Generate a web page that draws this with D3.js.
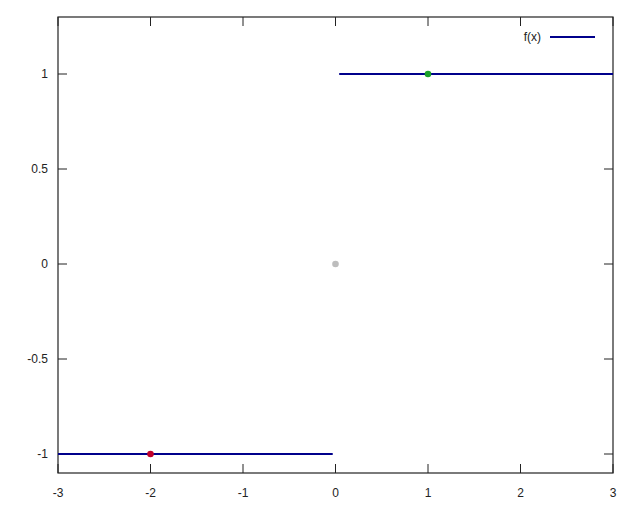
<!DOCTYPE html>
<html><head><meta charset="utf-8">
<script src="https://cdn.jsdelivr.net/npm/d3@7"></script>
<style>body{margin:0;background:#fff}svg{display:block}text{font-family:"Liberation Sans",Arial,sans-serif;font-size:12px;fill:#222}</style>
</head><body><svg id="c" width="640" height="512"></svg>
<script>
const xTicks = [-3,-2,-1,0,1,2,3];
const yTicks = [-1,-0.5,0,0.5,1];
const yTickLabels = ["-1","-0.5","0","0.5","1"];
const segments = [
  {x: [-3, -0.03], y: -1},
  {x: [0.04, 3], y: 1}
];
const points = [
  {x: -2, y: -1, color: "#c0002a"},
  {x: 1, y: 1, color: "#1aa02a"},
  {x: 0, y: 0, color: "#bdbdbd"}
];
const legendLabel = "f(x)";

const svg = d3.select("#c");
const L = 58, R = 613, T = 17, B = 473;
const x = d3.scaleLinear().domain([-3, 3]).range([L, R]);
const y = d3.scaleLinear().domain([-1.1, 1.3]).range([B, T]);
const tk = 9;
const axisCol = "#222";

const g = svg.append("g");
xTicks.forEach(v => {
  g.append("line").attr("x1", x(v)).attr("x2", x(v)).attr("y1", B).attr("y2", B - tk).attr("stroke", axisCol);
  g.append("line").attr("x1", x(v)).attr("x2", x(v)).attr("y1", T).attr("y2", T + tk).attr("stroke", axisCol);
  g.append("text").attr("x", x(v)).attr("y", B + 24).attr("text-anchor", "middle").text(v);
});
yTicks.forEach((v, i) => {
  g.append("line").attr("x1", L).attr("x2", L + tk).attr("y1", y(v)).attr("y2", y(v)).attr("stroke", axisCol);
  g.append("line").attr("x1", R).attr("x2", R - tk).attr("y1", y(v)).attr("y2", y(v)).attr("stroke", axisCol);
  g.append("text").attr("x", L - 10).attr("y", y(v) + 4).attr("text-anchor", "end").text(yTickLabels[i]);
});
g.append("rect").attr("x", L).attr("y", T).attr("width", R - L).attr("height", B - T)
  .attr("fill", "none").attr("stroke", axisCol).attr("stroke-width", 1.2);

const line = d3.line().x(d => x(d[0])).y(d => y(d[1]));
segments.forEach(s => {
  svg.append("path").attr("d", line([[s.x[0], s.y], [s.x[1], s.y]]))
    .attr("stroke", "#00008b").attr("stroke-width", 2).attr("fill", "none");
});
points.forEach(p => {
  svg.append("circle").attr("cx", x(p.x)).attr("cy", y(p.y)).attr("r", 3.3).attr("fill", p.color);
});
svg.append("text").attr("x", 541).attr("y", 41).attr("text-anchor", "end").text(legendLabel);
svg.append("line").attr("x1", 550).attr("x2", 595).attr("y1", 37).attr("y2", 37)
  .attr("stroke", "#00008b").attr("stroke-width", 2);
</script></body></html>
